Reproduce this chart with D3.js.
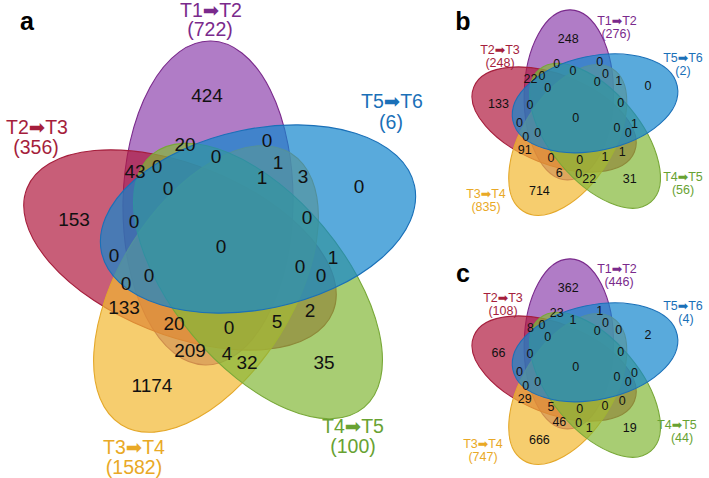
<!DOCTYPE html>
<html><head><meta charset="utf-8">
<script src="https://cdn.jsdelivr.net/npm/d3@7"></script>
<style>body{margin:0;background:#fff}svg{display:block}</style>
</head><body><svg id="chart" width="709" height="478"></svg>
<script>
// ---------- DATA ----------
const setLabels = ["T1➡T2", "T2➡T3", "T3➡T4", "T4➡T5", "T5➡T6"];
const totalsA = [722, 356, 1582, 100, 6];
const totalsB = [276, 248, 835, 56, 2];
const totalsC = [446, 108, 747, 44, 4];
// region counts (same region order for all panels)
const regionsA = [424, 20, 0, 0, 1, 43, 0, 1, 3, 0, 0, 153, 0, 0, 0, 0, 1, 0, 0, 0, 0, 133, 2, 20, 5, 0, 209, 4, 32, 35, 1174];
const regionsB = [248, 0, 0, 0, 0, 22, 0, 0, 1, 0, 0, 133, 0, 0, 0, 0, 1, 0, 0, 0, 0, 91, 1, 0, 1, 0, 6, 0, 22, 31, 714];
const regionsC = [362, 23, 1, 1, 0, 8, 0, 0, 0, 2, 0, 66, 0, 0, 0, 0, 0, 0, 0, 0, 0, 29, 0, 5, 0, 0, 46, 0, 1, 19, 666];
const panelNames = ["a", "b", "c"];

// ---------- LAYOUT (panel-a units) ----------
const fills = ["#8e44ae", "#b01a3e", "#f2b830", "#83b838", "#1386cd"];
const strokes = ["#7a2a8c", "#a51e3c", "#e4a82a", "#78a838", "#1a70b8"];
const textCols = ["#7a2a8c", "#a51e3c", "#e9a926", "#68a232", "#1a70b8"];
// ellipse geometry: cx, cy, semi-major, semi-minor, rotation(deg)
const ell = [
  [208, 203, 162, 85, -89],
  [180, 250, 165, 85, 22],
  [206, 289, 160, 87, -58],
  [258, 281, 165, 85, 50],
  [258, 219, 160, 90, -12]
];
const regionPos = [[207,95],[185,144],[267,140],[216,156],[278,162],[135,171],[157,166],[262,177],[303,176],[359,186],
  [168,188],[74,219],[134,221],[307,217],[221,246],[114,255],[333,257],[300,266],[149,275],[321,275],[126,283],
  [124,307],[310,310],[174,323],[277,321],[229,327],[190,350],[227,353],[247,362],[324,362],[152,385]];

const panels = [
  {s: 1, ox: 0, oy: 0, vals: regionsA, tot: totalsA, nfs: 19, lfs: 19.5, letter: [27, 30],
   lab: [[211,10,210,29],[37,127,36,147],[134,447,134,467],[353,426,353,446],[392,101,391,122]]},
  {s: 0.525, ox: 459.6, oy: -11.7, vals: regionsB, tot: totalsB, nfs: 12.5, lfs: 12.5, letter: [463, 30],
   lab: [[617,20,616,33],[500,49,500,62],[486,193,486,206],[683,176,683,189],[683,57,683,70]]},
  {s: 0.525, ox: 459.6, oy: 237.3, vals: regionsC, tot: totalsC, nfs: 12.5, lfs: 12.5, letter: [463, 282],
   lab: [[617,268,619,281],[503,297,503,310],[483,443,483,456],[677,424,682,437],[683,305,686,318]]}
];

const svg = d3.select("#chart");
const font = "'Liberation Sans', Arial, sans-serif";

panels.forEach((p, pi) => {
  const x = d3.scaleLinear().domain([0, 1]).range([p.ox, p.ox + p.s]);
  const y = d3.scaleLinear().domain([0, 1]).range([p.oy, p.oy + p.s]);
  const g = svg.append("g");
  g.selectAll("ellipse").data(ell).join("ellipse")
    .attr("cx", 0).attr("cy", 0)
    .attr("rx", d => d[2] * p.s).attr("ry", d => d[3] * p.s)
    .attr("transform", d => `translate(${x(d[0])},${y(d[1])}) rotate(${d[4]})`)
    .attr("fill", (d, i) => fills[i]).attr("fill-opacity", 0.7)
    .attr("stroke", (d, i) => strokes[i]).attr("stroke-width", 1.1);
  g.selectAll("text.num").data(p.vals).join("text").attr("class", "num")
    .attr("x", (d, i) => x(regionPos[i][0])).attr("y", (d, i) => y(regionPos[i][1]))
    .attr("dy", "0.36em").attr("text-anchor", "middle")
    .attr("font-family", font).attr("font-size", p.nfs).attr("fill", "#111")
    .text(d => d);
  p.lab.forEach((L, i) => {
    const t1 = g.append("text").attr("x", L[0]).attr("y", L[1]).attr("dy", "0.36em")
      .attr("text-anchor", "middle").attr("font-family", font).attr("font-size", p.lfs).attr("fill", textCols[i]);
    const parts = setLabels[i].split("➡");
    t1.append("tspan").text(parts[0]);
    t1.append("tspan").attr("font-family", "'DejaVu Sans'").text("➡");
    t1.append("tspan").text(parts[1]);
    g.append("text").attr("x", L[2]).attr("y", L[3]).attr("dy", "0.36em")
      .attr("text-anchor", "middle").attr("font-family", font).attr("font-size", p.lfs).attr("fill", textCols[i])
      .text(`(${p.tot[i]})`);
  });
  g.append("text").attr("x", p.letter[0]).attr("y", p.letter[1]).attr("text-anchor", "middle")
    .attr("font-family", font).attr("font-weight", "bold").attr("font-size", 25).attr("fill", "#000")
    .text(panelNames[pi]);
});
</script></body></html>
